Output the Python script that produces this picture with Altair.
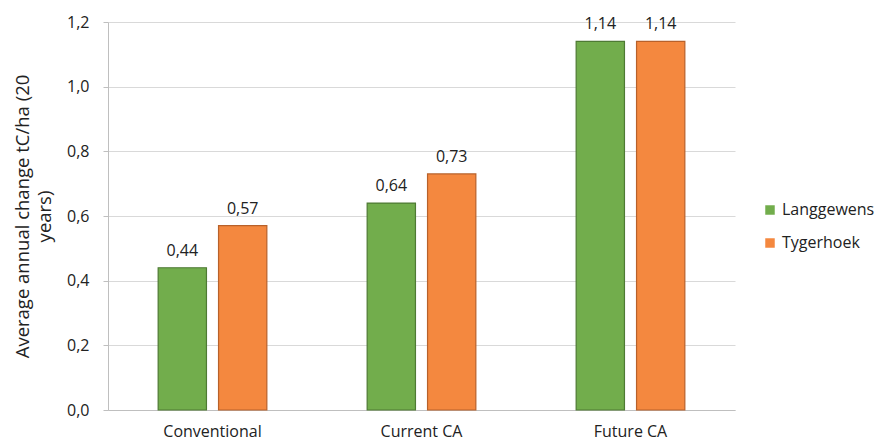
import altair as alt
import pandas as pd

categories = ["Conventional", "Current CA", "Future CA"]
series = ["Langgewens", "Tygerhoek"]
langgewens = [0.44, 0.64, 1.14]
tygerhoek = [0.57, 0.73, 1.14]

rows = []
for c, a, b in zip(categories, langgewens, tygerhoek):
    rows.append({"category": c, "site": series[0], "value": a})
    rows.append({"category": c, "site": series[1], "value": b})
df = pd.DataFrame(rows)

FONT = "Open Sans"
colors = ["#72AD4C", "#F4883F"]
strokes = ["#4E7A33", "#B8612A"]

base = alt.Chart(df).encode(
    x=alt.X("category:N", sort=categories,
            scale=alt.Scale(paddingInner=0.48, paddingOuter=0.24),
            axis=alt.Axis(title=None, labelAngle=0, ticks=False, domainColor="#BFBFBF",
                          labelFont=FONT, labelFontSize=16, labelColor="#222222", labelPadding=13)),
    xOffset=alt.XOffset("site:N", sort=series,
                        scale=alt.Scale(paddingInner=0.2, paddingOuter=0)),
)

bars = base.mark_bar(strokeWidth=1.2).encode(
    y=alt.Y("value:Q", scale=alt.Scale(domain=[0, 1.2]),
            axis=alt.Axis(title=["Average annual change tC/ha (20", "years)"],
                          values=[0, 0.2, 0.4, 0.6, 0.8, 1.0, 1.2],
                          labelExpr="replace(format(datum.value, '.1f'), '.', ',')",
                          labelFont=FONT, labelFontSize=16, labelColor="#222222",
                          titleFont=FONT, titleFontSize=18.5, titleFontWeight="normal",
                          titleColor="#222222", titlePadding=12, titleLineHeight=22,
                          gridColor="#D9D9D9", domainColor="#BFBFBF",
                          tickColor="#BFBFBF", tickSize=5, labelPadding=14)),
    color=alt.Color("site:N", sort=series,
                    scale=alt.Scale(domain=series, range=colors),
                    legend=alt.Legend(title=None, orient="none", legendX=654, legendY=180,
                                      symbolType="square", symbolSize=90,
                                      symbolStrokeWidth=0,
                                      labelFont=FONT, labelFontSize=16, labelColor="#222222",
                                      rowPadding=17)),
    stroke=alt.Stroke("site:N", sort=series,
                      scale=alt.Scale(domain=series, range=strokes), legend=None),
)

labels = base.transform_calculate(
    lab="replace(format(datum.value, '.2f'), '.', ',')"
).mark_text(baseline="bottom", dy=-9, font=FONT, fontSize=16, color="#222222").encode(
    y="value:Q",
    text="lab:N",
)

chart = alt.layer(bars, labels).properties(
    width=627, height=388,
    autosize=alt.AutoSizeParams(type="none"),
    padding={"left": 108, "top": 22, "right": 148, "bottom": 37},
    background="white",
).configure_view(stroke=None)

chart.save("out.html", embed_options={"renderer": "svg", "actions": False})
